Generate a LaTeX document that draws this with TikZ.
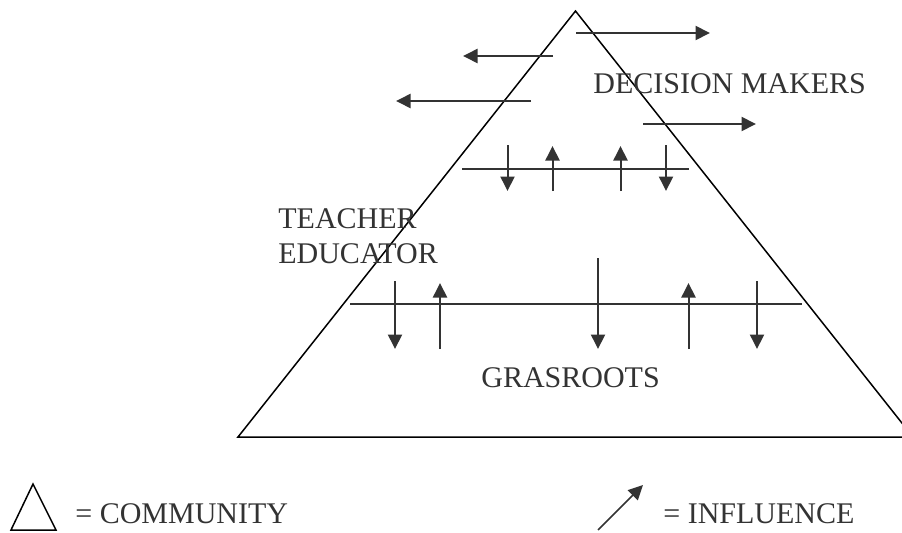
\documentclass[tikz,border=0pt]{standalone}
\usepackage{fontspec}
\setmainfont{Liberation Serif}
\usetikzlibrary{arrows.meta}
\definecolor{inkgray}{gray}{0.2}
\begin{document}
\begin{tikzpicture}[
    rim/.style={line width=0.030cm, black},
    flow/.style={line width=0.040cm, inkgray, -{Triangle[length=0.29cm,width=0.28cm]}},
    crossline/.style={line width=0.040cm, inkgray},
    levelname/.style={text=inkgray, inner sep=0pt, anchor=base west}
  ]
  \useasboundingbox (0,0) rectangle (18.040000,10.640000);
  {\fontsize{17.07}{20}\selectfont

  % Corners of the community triangle
  \coordinate (apex) at (11.510000,10.420000);%
  \coordinate (baseL) at (4.760000,1.900000);%
  \coordinate (baseR) at (18.260000,1.900000);%
  \draw [rim] (apex) -- (baseL) -- (baseR) -- cycle;%

  % Drawing arrows leaving the top
  \coordinate (outA) at (11.520000,9.980000);%
  \coordinate (outAtip) at (14.200000,9.980000);%
  \coordinate (outB) at (11.060000,9.520000);%
  \coordinate (outBtip) at (9.260000,9.520000);%
  \coordinate (outC) at (10.620000,8.620000);%
  \coordinate (outCtip) at (7.920000,8.620000);%
  \coordinate (outD) at (12.860000,8.160000);%
  \coordinate (outDtip) at (15.120000,8.160000);%
  \draw [flow] (outA) -- (outAtip);%
  \draw [flow] (outB) -- (outBtip);%
  \draw [flow] (outC) -- (outCtip);%
  \draw [flow] (outD) -- (outDtip);%

  % Marking level decision makers
  \node [levelname] (decision) at (11.860000,8.780000) {DECISION MAKERS};%

  % Drawing upper line with its arrows
  \coordinate (upL) at (9.240000,7.260000);%
  \coordinate (upR) at (13.780000,7.260000);%
  \draw [crossline] (upL) -- (upR);%
  \coordinate (upDa) at (10.150000,7.740000);%
  \coordinate (upDatip) at (10.150000,6.820000);%
  \coordinate (upUa) at (11.050000,6.820000);%
  \coordinate (upUatip) at (11.050000,7.720000);%
  \coordinate (upUb) at (12.410000,6.820000);%
  \coordinate (upUbtip) at (12.410000,7.720000);%
  \coordinate (upDb) at (13.320000,7.740000);%
  \coordinate (upDbtip) at (13.320000,6.820000);%
  \draw [flow] (upDa) -- (upDatip);%
  \draw [flow] (upUa) -- (upUatip);%
  \draw [flow] (upUb) -- (upUbtip);%
  \draw [flow] (upDb) -- (upDbtip);%

  % Marking level teacher educator
  \node [levelname] (teacher) at (5.560000,6.080000) {TEACHER};%
  \node [levelname] (educator) at (5.560000,5.380000) {EDUCATOR};%

  % Drawing lower line with its arrows
  \coordinate (lowL) at (7.000000,4.560000);%
  \coordinate (lowR) at (16.040000,4.560000);%
  \draw [crossline] (lowL) -- (lowR);%
  \coordinate (lowDa) at (7.900000,5.020000);%
  \coordinate (lowDatip) at (7.900000,3.660000);%
  \coordinate (lowUa) at (8.800000,3.660000);%
  \coordinate (lowUatip) at (8.800000,4.980000);%
  \coordinate (lowDb) at (11.960000,5.480000);%
  \coordinate (lowDbtip) at (11.960000,3.660000);%
  \coordinate (lowUb) at (13.770000,3.660000);%
  \coordinate (lowUbtip) at (13.770000,4.980000);%
  \coordinate (lowDc) at (15.140000,5.020000);%
  \coordinate (lowDctip) at (15.140000,3.660000);%
  \draw [flow] (lowDa) -- (lowDatip);%
  \draw [flow] (lowUa) -- (lowUatip);%
  \draw [flow] (lowDb) -- (lowDbtip);%
  \draw [flow] (lowUb) -- (lowUbtip);%
  \draw [flow] (lowDc) -- (lowDctip);%

  % Marking level grasroots
  \node [levelname] (grasroots) at (9.620000,2.900000) {GRASROOTS};%

  % Drawing key: community
  \coordinate (keyApex) at (0.660000,0.960000);%
  \coordinate (keyL) at (0.220000,0.040000);%
  \coordinate (keyR) at (1.120000,0.040000);%
  \draw [rim] (keyApex) -- (keyL) -- (keyR) -- cycle;%
  \node [levelname] (community) at (1.500000,0.180000) {= COMMUNITY};%

  % Drawing key: influence
  \coordinate (keyFoot) at (11.960000,0.040000);%
  \coordinate (keyTip) at (12.860000,0.940000);%
  \draw [flow, line width=0.030cm] (keyFoot) -- (keyTip);%
  \node [levelname] (influence) at (13.260000,0.180000) {= INFLUENCE};%
  }
\end{tikzpicture}
\end{document}
